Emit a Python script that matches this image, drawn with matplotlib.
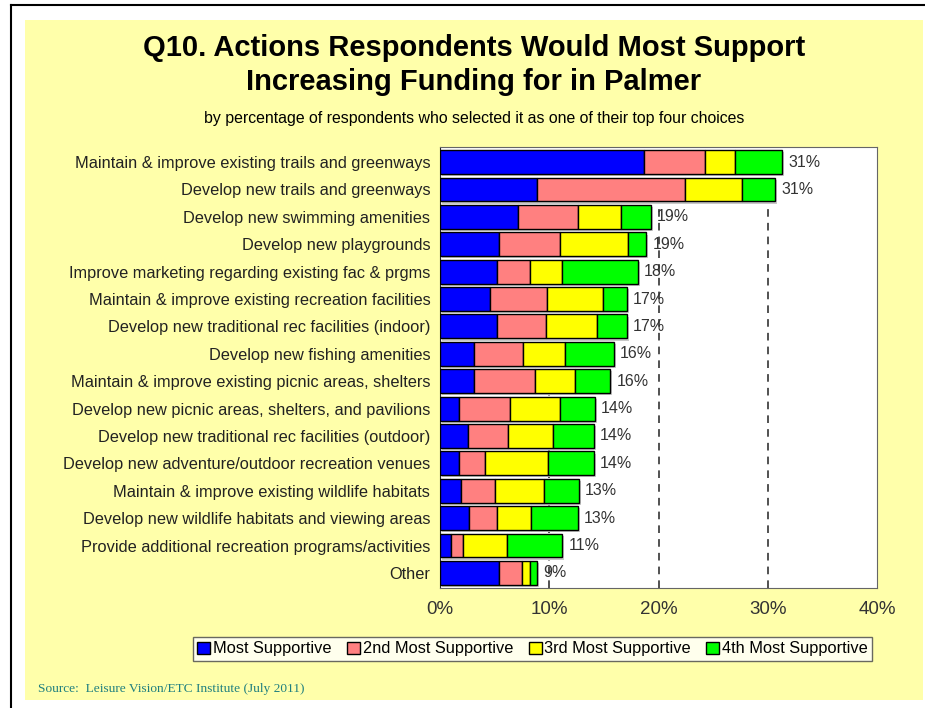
import matplotlib
matplotlib.use('Agg')
import numpy as np
import matplotlib.pyplot as plt
from matplotlib.patches import Rectangle, Patch
from matplotlib.lines import Line2D

# --- data (percent of respondents) ---
categories = [
    "Maintain & improve existing trails and greenways",
    "Develop new trails and greenways",
    "Develop new swimming amenities",
    "Develop new playgrounds",
    "Improve marketing regarding existing fac & prgms",
    "Maintain & improve existing recreation facilities",
    "Develop new traditional rec facilities (indoor)",
    "Develop new fishing amenities",
    "Maintain & improve existing picnic areas, shelters",
    "Develop new picnic areas, shelters, and pavilions",
    "Develop new traditional rec facilities (outdoor)",
    "Develop new adventure/outdoor recreation venues",
    "Maintain & improve existing wildlife habitats",
    "Develop new wildlife habitats and viewing areas",
    "Provide additional recreation programs/activities",
    "Other",
]
most_supp = [18.7, 8.9, 7.1, 5.4, 5.2, 4.6, 5.2, 3.1, 3.1, 1.7, 2.6, 1.7, 1.9, 2.7, 1.0, 5.4]
second_supp = [5.6, 13.5, 5.5, 5.6, 3.0, 5.2, 4.5, 4.5, 5.6, 4.7, 3.6, 2.4, 3.1, 2.5, 1.1, 2.1]
third_supp = [2.7, 5.2, 4.0, 6.2, 3.0, 5.1, 4.7, 3.8, 3.7, 4.6, 4.1, 5.8, 4.5, 3.1, 4.0, 0.7]
fourth_supp = [4.3, 3.1, 2.7, 1.7, 6.9, 2.2, 2.7, 4.5, 3.2, 3.2, 3.8, 4.2, 3.2, 4.3, 5.1, 0.7]
total_labels = ["31%", "31%", "19%", "19%", "18%", "17%", "17%", "16%",
                "16%", "14%", "14%", "14%", "13%", "13%", "11%", "9%"]
series_names = ["Most Supportive", "2nd Most Supportive",
                "3rd Most Supportive", "4th Most Supportive"]
series_colors = ["#0000ff", "#ff8080", "#ffff00", "#00ff00"]
x_ticks = [0, 10, 20, 30, 40]

plt.rcParams['font.family'] = ['Liberation Sans', 'DejaVu Sans']

fig = plt.figure(figsize=(9.25, 7.08), dpi=100)
fig.patch.set_facecolor('white')

# page frame and yellow panel
fig.add_artist(Line2D([11 / 925, 1], [1 - 5 / 708, 1 - 5 / 708], color='black', lw=1.5))
fig.add_artist(Line2D([11 / 925, 11 / 925], [0, 1 - 5 / 708], color='black', lw=1.5))
fig.add_artist(Rectangle((25 / 925, 1 - 700 / 708), 898 / 925, 680 / 708,
                         facecolor='#ffffaa', edgecolor='none', zorder=-5))

ax = fig.add_axes([440 / 925, 1 - 588 / 708, 437 / 925, 441 / 708])
ax.set_facecolor('white')

y = np.arange(len(categories))
segs = [most_supp, second_supp, third_supp, fourth_supp]
totals = np.sum(segs, axis=0)

# grey drop shadows behind the bars
ax.barh(y + 0.08, totals, left=0.18, height=0.87, color='#c8c8c8', edgecolor='none', zorder=1)

left = np.zeros(len(categories))
for vals, col, name in zip(segs, series_colors, series_names):
    ax.barh(y, vals, left=left, height=0.87, color=col, edgecolor='black',
            linewidth=1, label=name, zorder=3)
    left += np.array(vals)

for yi, tot, lab in zip(y, totals, total_labels):
    ax.text(tot + 0.55, yi, lab, va='center', ha='left', fontsize=11.5, color='#333333', zorder=4)

for gx in [10, 20, 30]:
    ax.axvline(gx, color='#222222', lw=1.1, ls=(0, (5, 4)), zorder=0.5)

ax.set_xlim(0, 40)
ax.set_ylim(len(categories) - 0.45, -0.55)
ax.set_xticks(x_ticks)
ax.set_xticklabels(["%d%%" % t for t in x_ticks], fontsize=13.5, color='#333333')
ax.set_yticks(y)
ax.set_yticklabels(categories, fontsize=11.8, color='#222222')
ax.tick_params(axis='x', length=0, pad=9)
ax.tick_params(axis='y', length=0, pad=7)
for side in ['top', 'right', 'bottom']:
    ax.spines[side].set_color('#666666')
ax.spines['left'].set_color('#222222')

# titles
fig.text(474 / 925, 1 - 48 / 708, "Q10. Actions Respondents Would Most Support",
         ha='center', va='center', fontsize=21, fontweight='bold')
fig.text(474 / 925, 1 - 82 / 708, "Increasing Funding for in Palmer",
         ha='center', va='center', fontsize=21, fontweight='bold')
fig.text(474 / 925, 1 - 118 / 708,
         "by percentage of respondents who selected it as one of their top four choices",
         ha='center', va='center', fontsize=11.4)

handles = [Patch(facecolor=c, edgecolor='black', lw=1) for c in series_colors]
leg = fig.legend(handles, series_names, loc='center', bbox_to_anchor=(532.5 / 925, 1 - 649 / 708),
                 ncol=4, fontsize=11.8, frameon=True, fancybox=False, handlelength=0.8,
                 handleheight=0.8, handletextpad=0.15, columnspacing=0.95, borderpad=0.25)
leg.get_frame().set_edgecolor('#444444')
leg.get_frame().set_linewidth(1)

fig.text(38 / 925, 1 - 689 / 708, "Source:  Leisure Vision/ETC Institute (July 2011)",
         ha='left', va='center', fontsize=9.6, family='Liberation Serif', color='#1f7f7f')

fig.savefig('out.png', dpi=100, facecolor=fig.get_facecolor())
